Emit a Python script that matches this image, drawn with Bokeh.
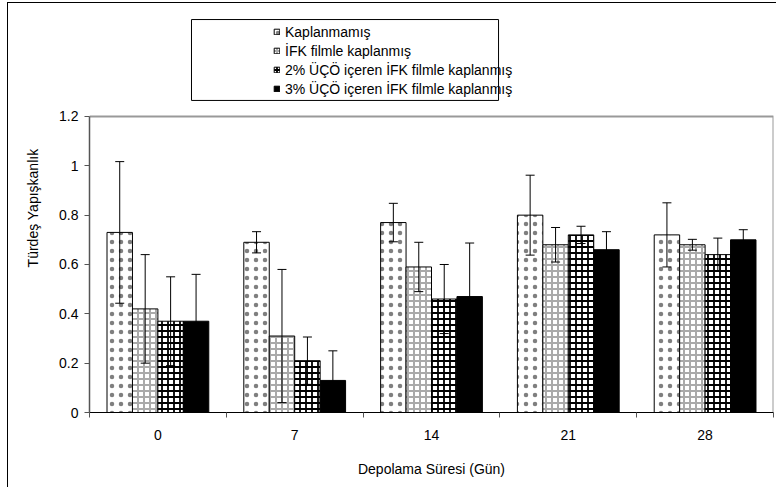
from bokeh.plotting import figure
from bokeh.models import (ColumnDataSource, Range1d, FixedTicker,
                          Legend, LegendItem, BoxAnnotation)
from bokeh.embed import file_html
from bokeh.resources import INLINE

days = ["0", "7", "14", "21", "28"]
series_names = ["Kaplanmamış", "İFK filmle kaplanmış",
                "2% ÜÇÖ içeren İFK filmle kaplanmış", "3% ÜÇÖ içeren İFK filmle kaplanmış"]
kaplanmamis = [0.73, 0.69, 0.77, 0.80, 0.72]
ifk = [0.42, 0.31, 0.59, 0.68, 0.68]
uco2 = [0.37, 0.21, 0.46, 0.72, 0.64]
uco3 = [0.37, 0.13, 0.47, 0.66, 0.70]
err_kaplanmamis = [0.287, 0.043, 0.078, 0.162, 0.13]
err_ifk = [0.22, 0.27, 0.10, 0.07, 0.022]
err_uco2 = [0.18, 0.096, 0.14, 0.035, 0.067]
err_uco3 = [0.19, 0.12, 0.217, 0.073, 0.041]
y_ticks = [0, 0.2, 0.4, 0.6, 0.8, 1.0, 1.2]
y_tick_labels = ["0", "0.2", "0.4", "0.6", "0.8", "1", "1.2"]

FONT = "Liberation Sans"
Y_TOP = 1.2
N = len(days)

# frame spans from canvas top down to the x axis; values above 1.2 hold the legend
p = figure(width=769, height=485, output_backend="svg", toolbar_location=None,
           x_range=Range1d(0, N), y_range=Range1d(0, 1.658),
           min_border_left=81, min_border_right=4, min_border_top=0, min_border_bottom=76)
p.styles = {"border-left": "1px solid black", "border-top": "1px solid black",
            "margin-top": "2px", "margin-left": "7px"}
p.xgrid.visible = False
p.ygrid.visible = False
p.outline_line_color = None
p.background_fill_color = "white"
p.border_fill_color = "white"

# plot-area border (top and right), gray
p.line(x=[0, N, N], y=[Y_TOP, Y_TOP, 0], line_color="#999999", line_width=2)

bw = 0.186
offsets = [-1.5 * bw, -0.5 * bw, 0.5 * bw, 1.5 * bw]
centers = [i + 0.5 for i in range(N)]

vals = [kaplanmamis, ifk, uco2, uco3]
errs = [err_kaplanmamis, err_ifk, err_uco2, err_uco3]
styles = [
    dict(fill_color="white", hatch_pattern="dot", hatch_color="black", hatch_alpha=0.5, hatch_scale=9),
    dict(fill_color="white", hatch_pattern="cross", hatch_color="#aaaaaa", hatch_scale=6, hatch_weight=2),
    dict(fill_color="white", hatch_pattern="cross", hatch_color="black", hatch_scale=6, hatch_weight=1.8),
    dict(fill_color="black"),
]

renderers = []
sources = []
for k in range(4):
    xs = [c + offsets[k] for c in centers]
    src = ColumnDataSource(dict(x=xs, top=vals[k],
                                upper=[v + e for v, e in zip(vals[k], errs[k])],
                                lower=[v - e for v, e in zip(vals[k], errs[k])]))
    r = p.vbar(x="x", top="top", bottom=0, width=bw, source=src,
               line_color="black", line_width=1, **styles[k])
    renderers.append(r)
    sources.append(src)

# error bars drawn after all bars
for src in sources:
    p.segment(x0="x", y0="lower", x1="x", y1="upper", source=src, line_color="black", line_width=1)
    p.scatter(x="x", y="upper", source=src, marker="dash", size=9, line_color="black", line_width=1)
    p.scatter(x="x", y="lower", source=src, marker="dash", size=9, line_color="black", line_width=1)

# axes
xa = p.xaxis[0]
xa.ticker = FixedTicker(ticks=centers, minor_ticks=list(range(N + 1)))
xa.major_label_overrides = {c: d for c, d in zip(centers, days)}
xa.major_tick_out = 0
xa.major_tick_in = 0
xa.minor_tick_out = 5
xa.minor_tick_in = 0
xa.axis_line_color = "black"
xa.minor_tick_line_color = "#555555"
xa.major_label_text_font = FONT
xa.major_label_text_font_size = "14px"
xa.major_label_text_color = "black"
xa.major_label_standoff = 12
xa.axis_label = "Depolama Süresi (Gün)"
xa.axis_label_text_font = FONT
xa.axis_label_text_font_size = "14px"
xa.axis_label_text_font_style = "normal"
xa.axis_label_text_color = "black"
xa.axis_label_standoff = 18

ya = p.yaxis[0]
ya.ticker = FixedTicker(ticks=y_ticks, minor_ticks=[])
ya.bounds = (0, Y_TOP)
ya.major_label_overrides = {t: l for t, l in zip(y_ticks, y_tick_labels)}
ya.major_tick_out = 5
ya.major_tick_in = 0
ya.axis_line_color = "#555555"
ya.axis_line_width = 1.5
ya.major_tick_line_color = "#555555"
ya.major_label_text_font = FONT
ya.major_label_text_font_size = "14px"
ya.major_label_text_color = "black"
ya.major_label_standoff = 6
ya.axis_label = "Türdeş Yapışkanlık"
ya.axis_label_text_font = FONT
ya.axis_label_text_font_size = "14px"
ya.axis_label_text_font_style = "normal"
ya.axis_label_text_color = "black"
ya.axis_label_standoff = 15

legend = Legend(items=[LegendItem(label=n, renderers=[r]) for n, r in zip(series_names, renderers)],
                location=(184, 314), padding=2, margin=0, spacing=0,
                label_height=19, glyph_height=7, glyph_width=7, label_standoff=5,
                label_text_font=FONT, label_text_font_size="14px", label_text_color="black",
                border_line_color=None, background_fill_alpha=0)
p.add_layout(legend, "center")

legend_box = BoxAnnotation(left=0.7456, right=2.99, top=1.593, bottom=1.265,
                           fill_alpha=0, line_color="black", line_alpha=1, line_width=1)
p.add_layout(legend_box)

open("out.html", "w").write(file_html(p, INLINE))
